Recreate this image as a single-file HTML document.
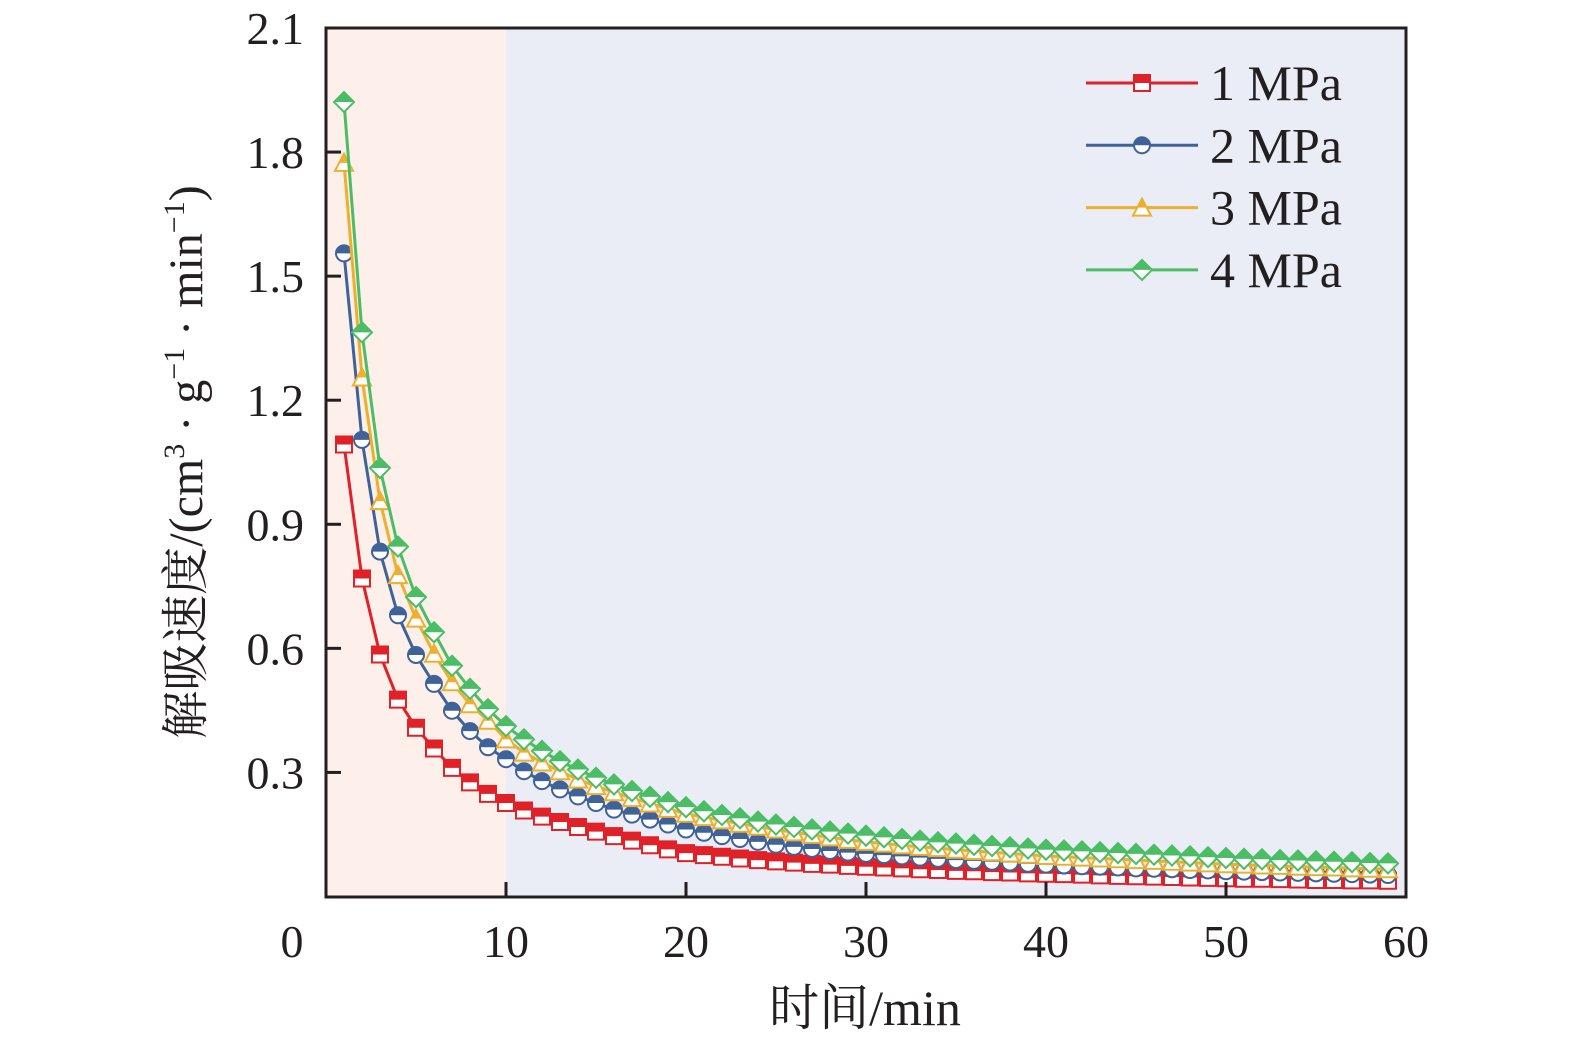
<!DOCTYPE html>
<html><head><meta charset="utf-8"><style>
html,body{margin:0;padding:0;background:#fff;}
svg{display:block;font-family:"Liberation Serif","Noto Serif CJK SC",serif;}
</style></head><body>
<svg id="chart" width="1575" height="1047" viewBox="0 0 1575 1047" xmlns="http://www.w3.org/2000/svg">
<rect x="326" y="28" width="180" height="869" fill="#fdf0eb"/>
<rect x="506" y="28" width="900" height="869" fill="#eaedf6"/>
<g id="series"></g>
<g id="axes"></g>
<rect x="326" y="28" width="1080" height="869" fill="none" stroke="#231f20" stroke-width="3"/>
<g id="legend"></g>
<text x="865" y="1025" font-size="50" text-anchor="middle" fill="#231f20">时间/min</text>
<text transform="translate(202,462) rotate(-90)" font-size="48" text-anchor="middle" fill="#231f20">解吸速度/(cm<tspan font-size="30" dy="-18">3</tspan><tspan dy="18"> · g</tspan><tspan font-size="30" dy="-18">−1</tspan><tspan dy="18"> · min</tspan><tspan font-size="30" dy="-18">−1</tspan><tspan dy="18">)</tspan></text>
</svg>
<script>
const times = [];
for (let t = 1; t <= 59; t++) times.push(t);
const xTicks = [0,10,20,30,40,50,60];
const yTicks = [0.3,0.6,0.9,1.2,1.5,1.8,2.1];
const yTickLabels = ["0.3","0.6","0.9","1.2","1.5","1.8","2.1"];
const seriesNames = ["1 MPa","2 MPa","3 MPa","4 MPa"];
const s1 = [1.093,0.769,0.585,0.476,0.408,0.358,0.311,0.276,0.248,0.226,
0.208,0.193,0.180,0.168,0.157,0.146,0.135,0.124,0.114,0.105,
0.100,0.096,0.092,0.088,0.085,0.082,0.079,0.077,0.074,0.072,
0.070,0.068,0.066,0.064,0.062,0.061,0.059,0.058,0.056,0.055,
0.054,0.053,0.051,0.050,0.049,0.048,0.047,0.046,0.045,0.044,
0.043,0.043,0.042,0.041,0.040,0.040,0.039,0.039,0.038];
const s2 = [1.555,1.104,0.834,0.680,0.584,0.514,0.449,0.400,0.361,0.332,
0.303,0.279,0.259,0.242,0.226,0.210,0.198,0.186,0.174,0.162,
0.154,0.146,0.139,0.132,0.125,0.120,0.115,0.110,0.106,0.103,
0.100,0.097,0.094,0.091,0.088,0.086,0.084,0.082,0.079,0.077,
0.075,0.073,0.072,0.070,0.068,0.067,0.066,0.064,0.063,0.061,
0.060,0.059,0.058,0.057,0.056,0.055,0.054,0.053,0.052];
const s3 = [1.774,1.255,0.956,0.777,0.672,0.587,0.518,0.465,0.425,0.380,
0.348,0.324,0.303,0.283,0.267,0.252,0.238,0.225,0.212,0.200,
0.192,0.184,0.176,0.169,0.162,0.155,0.149,0.143,0.137,0.132,
0.128,0.124,0.120,0.117,0.113,0.110,0.107,0.104,0.101,0.098,
0.096,0.094,0.092,0.090,0.088,0.086,0.084,0.082,0.080,0.078,
0.077,0.075,0.074,0.072,0.071,0.070,0.068,0.067,0.066];
const s4 = [1.921,1.364,1.036,0.846,0.724,0.639,0.558,0.502,0.453,0.412,
0.380,0.352,0.327,0.307,0.287,0.271,0.255,0.241,0.228,0.216,
0.206,0.197,0.189,0.181,0.174,0.168,0.162,0.157,0.152,0.147,
0.143,0.139,0.135,0.131,0.128,0.125,0.122,0.119,0.116,0.113,
0.111,0.109,0.107,0.105,0.103,0.101,0.099,0.097,0.095,0.093,
0.091,0.090,0.088,0.087,0.085,0.084,0.083,0.081,0.080];

const NS = "http://www.w3.org/2000/svg";
const X0 = 326, X1 = 1406, Y0 = 896.5, Y1 = 28;
function xs(v){ return X0 + (v - 0) / 60 * (X1 - X0); }
function ys(v){ return Y0 - (v - 0) / 2.1 * (Y0 - Y1); }
function mk(tag, attrs, parent){
  const e = document.createElementNS(NS, tag);
  for (const k in attrs) e.setAttribute(k, attrs[k]);
  parent.appendChild(e);
  return e;
}
const colors = ["#e02127","#3f6299","#edaf2e","#4bbd65"];
const shapes = ["square","circle","triangle","diamond"];
const allSeries = [s1,s2,s3,s4];

let clipN = 0;
function marker(g, shape, cx, cy, color, sz){
  const defs = mk("defs", {}, g);
  const id = "cp" + (clipN++);
  const cp = mk("clipPath", {id: id}, defs);
  mk("rect", {x: cx - 20, y: cy - 20, width: 40, height: 20}, cp);
  let d;
  const r = sz / 2;
  if (shape === "square") d = `M${cx-r},${cy-r}h${sz}v${sz}h${-sz}Z`;
  else if (shape === "circle") d = `M${cx-r},${cy}a${r},${r} 0 1,0 ${sz},0a${r},${r} 0 1,0 ${-sz},0Z`;
  else if (shape === "triangle") d = `M${cx},${cy-r-1}L${cx+r+1},${cy+r}L${cx-r-1},${cy+r}Z`;
  else d = `M${cx},${cy-r-2}L${cx+r+2},${cy}L${cx},${cy+r+2}L${cx-r-2},${cy}Z`;
  const w = mk("path", {d: d, fill: "#fff", stroke: color, "stroke-width": 2}, g);
  
  
  const f = mk("path", {d: d, fill: color, "clip-path": `url(#${id})`}, g);
  
  
}

const sg = document.getElementById("series");
allSeries.forEach((vals, i) => {
  const g = mk("g", {}, sg);
  
  
  const pts = vals.map((v, j) => xs(times[j]).toFixed(1) + "," + ys(v).toFixed(1)).join(" ");
  const pl = mk("polyline", {points: pts, fill: "none", stroke: colors[i], "stroke-width": 3}, g);
  
  
  vals.forEach((v, j) => marker(g, shapes[i], xs(times[j]), ys(v), colors[i], 16));
});

const ax = document.getElementById("axes");
xTicks.forEach(t => {
  if (t > 0 && t < 60) {
    const l = mk("line", {x1: xs(t), x2: xs(t), y1: 897, y2: 882, stroke: "#231f20", "stroke-width": 3}, ax);
    
    
  }
  const tx = mk("text", {x: t === 0 ? 292 : xs(t), y: 957, "font-size": 46, "text-anchor": "middle", fill: "#231f20"}, ax);
  tx.textContent = String(t);
  
  
});
yTicks.forEach((t, i) => {
  if (t < 2.1) {
    const l = mk("line", {x1: 326, x2: 341, y1: ys(t), y2: ys(t), stroke: "#231f20", "stroke-width": 3}, ax);
    
    
  }
  const tx = mk("text", {x: 304, y: ys(t) + 16, "font-size": 46, "text-anchor": "end", fill: "#231f20"}, ax);
  tx.textContent = yTickLabels[i];
  
  
});

const lg = document.getElementById("legend");
seriesNames.forEach((n, i) => {
  const y = 83 + i * 62.3;
  const g = mk("g", {}, lg);
  
  
  mk("line", {x1: 1086, x2: 1198, y1: y, y2: y, stroke: colors[i], "stroke-width": 3}, g);
  marker(g, shapes[i], 1142, y, colors[i], 16);
  const tx = mk("text", {x: 1210, y: y + 17, "font-size": 50, fill: "#231f20"}, g);
  tx.textContent = n;
  
  
});
</script>
</body></html>
